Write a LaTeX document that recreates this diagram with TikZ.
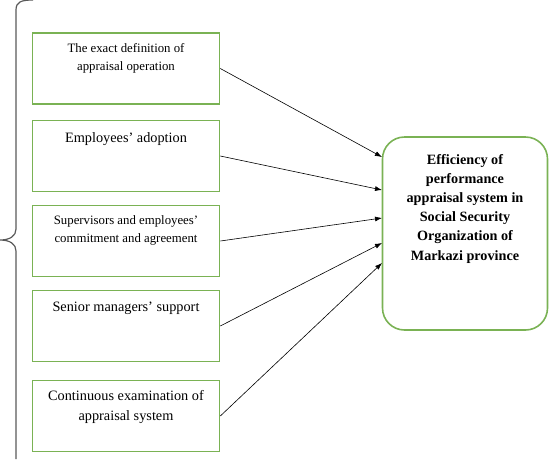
\documentclass[tikz,border=0pt]{standalone}
\usepackage{fontspec}
\setmainfont{Liberation Serif}
\usetikzlibrary{arrows.meta}

\definecolor{boxgreen}{RGB}{122,178,84}
\tikzstyle{factor} = [draw=boxgreen, line width=1.6pt, minimum width=187pt, minimum height=71pt, inner sep=0pt]
\tikzstyle{result} = [draw=boxgreen, line width=1.6pt, rounded corners=22pt, minimum width=165pt, minimum height=193pt, inner sep=0pt]
\tikzstyle{small} = [font=\fontsize{12.8}{18}\selectfont, align=center, anchor=base, inner sep=0pt]
\tikzstyle{large} = [font=\fontsize{14.3}{20}\selectfont, align=center, anchor=base, inner sep=0pt]
\tikzstyle{arr} = [-{Latex[length=7pt,width=5pt]}, line width=0.6pt]

\begin{document}
\begin{tikzpicture}[x=1pt,y=-1pt]
      \useasboundingbox (0,0) rectangle (553,459);
      % left brace
      \draw[line width=1.2pt, black!65] (33,0) .. controls (21,0) and (16,2) .. (16,10) -- (16,229)
            .. controls (16,236) and (10,240) .. (0,240)
            .. controls (10,240) and (16,244) .. (16,251) -- (16,459);
      % factor boxes
      \node[factor] (b1) at (126,68.5) {};
      \node[factor] (b2) at (126,156) {};
      \node[factor] (b3) at (126,241) {};
      \node[factor] (b4) at (126,326) {};
      \node[factor] (b5) at (126,416) {};
      % texts (base = last line)
      \node[small] at (126,70) {The exact definition of\\appraisal operation};
      \node[large] at (126,142) {Employees' adoption};
      \node[small] at (126,242) {Supervisors and employees'\\commitment and agreement};
      \node[large] at (126,311) {Senior managers' support};
      \node[large] at (126,420) {Continuous examination of\\appraisal system};
      % result box
      \node[result] (eff) at (465,233.5) {};
      \node[font=\fontsize{14.2}{19.2}\selectfont\bfseries, align=center, anchor=base, inner sep=0pt] at (465,260)
            {Efficiency of\\performance\\appraisal system in\\Social Security\\Organization of\\Markazi province};
      \coordinate (t1) at (382,157);
      \coordinate (t2) at (382,190);
      \coordinate (t3) at (382,218);
      \coordinate (t4) at (382,243);
      \coordinate (t5) at (382,263);
      \draw[arr] (b1.east) -- (t1);
      \draw[arr] (b2.east) -- (t2);
      \draw[arr] (b3.east) -- (t3);
      \draw[arr] (b4.east) -- (t4);
      \draw[arr] (b5.east) -- (t5);
    \end{tikzpicture}
\end{document}
